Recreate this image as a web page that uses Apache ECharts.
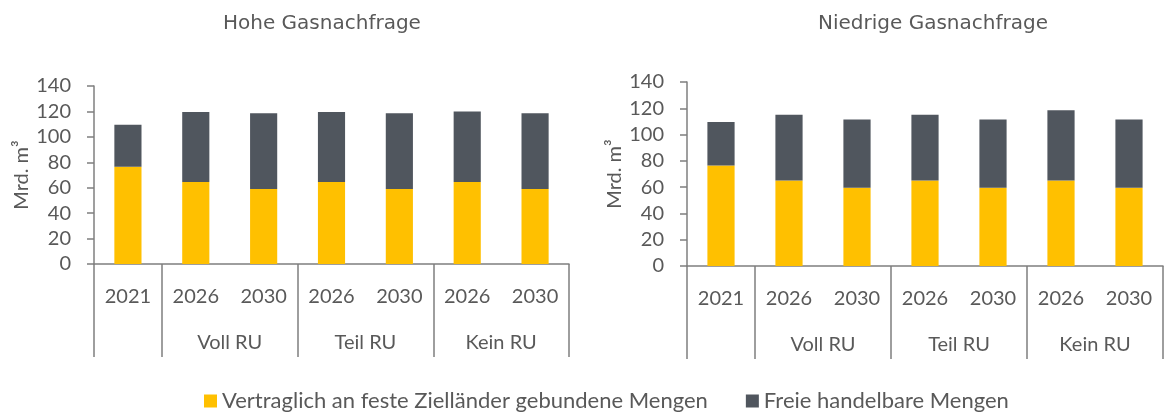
<!DOCTYPE html>
<html>
<head>
<meta charset="utf-8">
<script src="https://cdn.jsdelivr.net/npm/echarts@6/dist/echarts.min.js"></script>
<style>
  html, body { margin: 0; padding: 0; background: #fff; }
  #chart { width: 1167px; height: 413px; }
</style>
</head>
<body>
<div id="chart"></div>
<script>
var years = ['2021', '2026', '2030', '2026', '2030', '2026', '2030'];
var groups = ['Voll RU', 'Teil RU', 'Kein RU'];
var seriesNames = ['Vertraglich an feste Zielländer gebundene Mengen', 'Freie handelbare Mengen'];

// Hohe Gasnachfrage
var hoheGebunden = [76.5, 64.5, 59, 64.5, 59, 64.5, 59];
var hoheFrei = [33, 55, 59.5, 55, 59.5, 55.5, 59.5];
// Niedrige Gasnachfrage
var niedrigGebunden = [76.5, 65, 59.5, 65, 59.5, 65, 59.5];
var niedrigFrei = [33, 50, 52, 50, 52, 53.5, 52];

var textColor = '#595959';
var axisColor = '#7f7f7f';
var fontFam = 'Lato, "Open Sans", sans-serif';

var chart = echarts.init(document.getElementById('chart'));

function catAxis(gridIndex) {
    return {
        type: 'category',
        gridIndex: gridIndex,
        position: 'bottom',
        data: years,
        axisLine: { lineStyle: { color: axisColor, width: 1.5 } },
        axisTick: { show: false },
        axisLabel: { color: textColor, fontSize: 20, fontFamily: fontFam, margin: 23 }
    };
}

// overlay axis for the group separators and group names
function groupAxis(gridIndex) {
    return {
        type: 'value',
        gridIndex: gridIndex,
        position: 'bottom',
        min: 0,
        max: 7,
        splitLine: { show: false },
        axisLine: { show: false },
        axisTick: {
            show: true,
            length: 93,
            customValues: [0, 1, 3, 5, 7],
            lineStyle: { color: axisColor, width: 1.5 }
        },
        axisLabel: {
            customValues: [2, 4, 6],
            formatter: function (v) { return groups[v / 2 - 1]; },
            color: textColor, fontSize: 20, fontFamily: fontFam, margin: 69
        }
    };
}

function valAxis(gridIndex) {
    return {
        type: 'value',
        gridIndex: gridIndex,
        min: 0,
        max: 140,
        interval: 20,
        name: 'Mrd. m³',
        nameLocation: 'middle',
        nameGap: 62,
        nameTextStyle: { color: textColor, fontSize: 20, fontFamily: fontFam },
        splitLine: { show: false },
        axisLine: { show: true, lineStyle: { color: axisColor, width: 1.5 } },
        axisTick: { show: true, length: 7, lineStyle: { color: axisColor, width: 1.5 } },
        axisLabel: { color: textColor, fontSize: 20, fontFamily: fontFam, margin: 23 }
    };
}

function bars(name, data, xIdx, yIdx, color, stack) {
    return {
        name: name,
        type: 'bar',
        stack: stack,
        xAxisIndex: xIdx,
        yAxisIndex: yIdx,
        data: data,
        barWidth: '40%',
        itemStyle: { color: color },
        emphasis: { disabled: true }
    };
}

var option = {
    animation: false,
    textStyle: { fontFamily: fontFam },
    title: [
        { text: 'Hohe Gasnachfrage', left: 218, top: 9,
          textStyle: { color: textColor, fontSize: 20, fontWeight: 'normal', fontFamily: '"DejaVu Sans", sans-serif' } },
        { text: 'Niedrige Gasnachfrage', left: 813, top: 9,
          textStyle: { color: textColor, fontSize: 20, fontWeight: 'normal', fontFamily: '"DejaVu Sans", sans-serif' } }
    ],
    legend: {
        left: 199,
        top: 385,
        itemWidth: 13,
        itemHeight: 13,
        itemGap: 38,
        icon: 'rect',
        data: seriesNames,
        textStyle: { color: textColor, fontSize: 22, fontFamily: fontFam }
    },
    grid: [
        { left: 94, top: 86, width: 475, height: 178 },
        { left: 687, top: 82, width: 476, height: 184 }
    ],
    xAxis: [catAxis(0), groupAxis(0), catAxis(1), groupAxis(1)],
    yAxis: [valAxis(0), valAxis(1)],
    series: [
        bars(seriesNames[0], hoheGebunden, 0, 0, '#FFC000', 'hohe'),
        bars(seriesNames[1], hoheFrei, 0, 0, '#50565E', 'hohe'),
        bars(seriesNames[0], niedrigGebunden, 2, 1, '#FFC000', 'niedrig'),
        bars(seriesNames[1], niedrigFrei, 2, 1, '#50565E', 'niedrig')
    ]
};
chart.setOption(option);
</script>
</body>
</html>
